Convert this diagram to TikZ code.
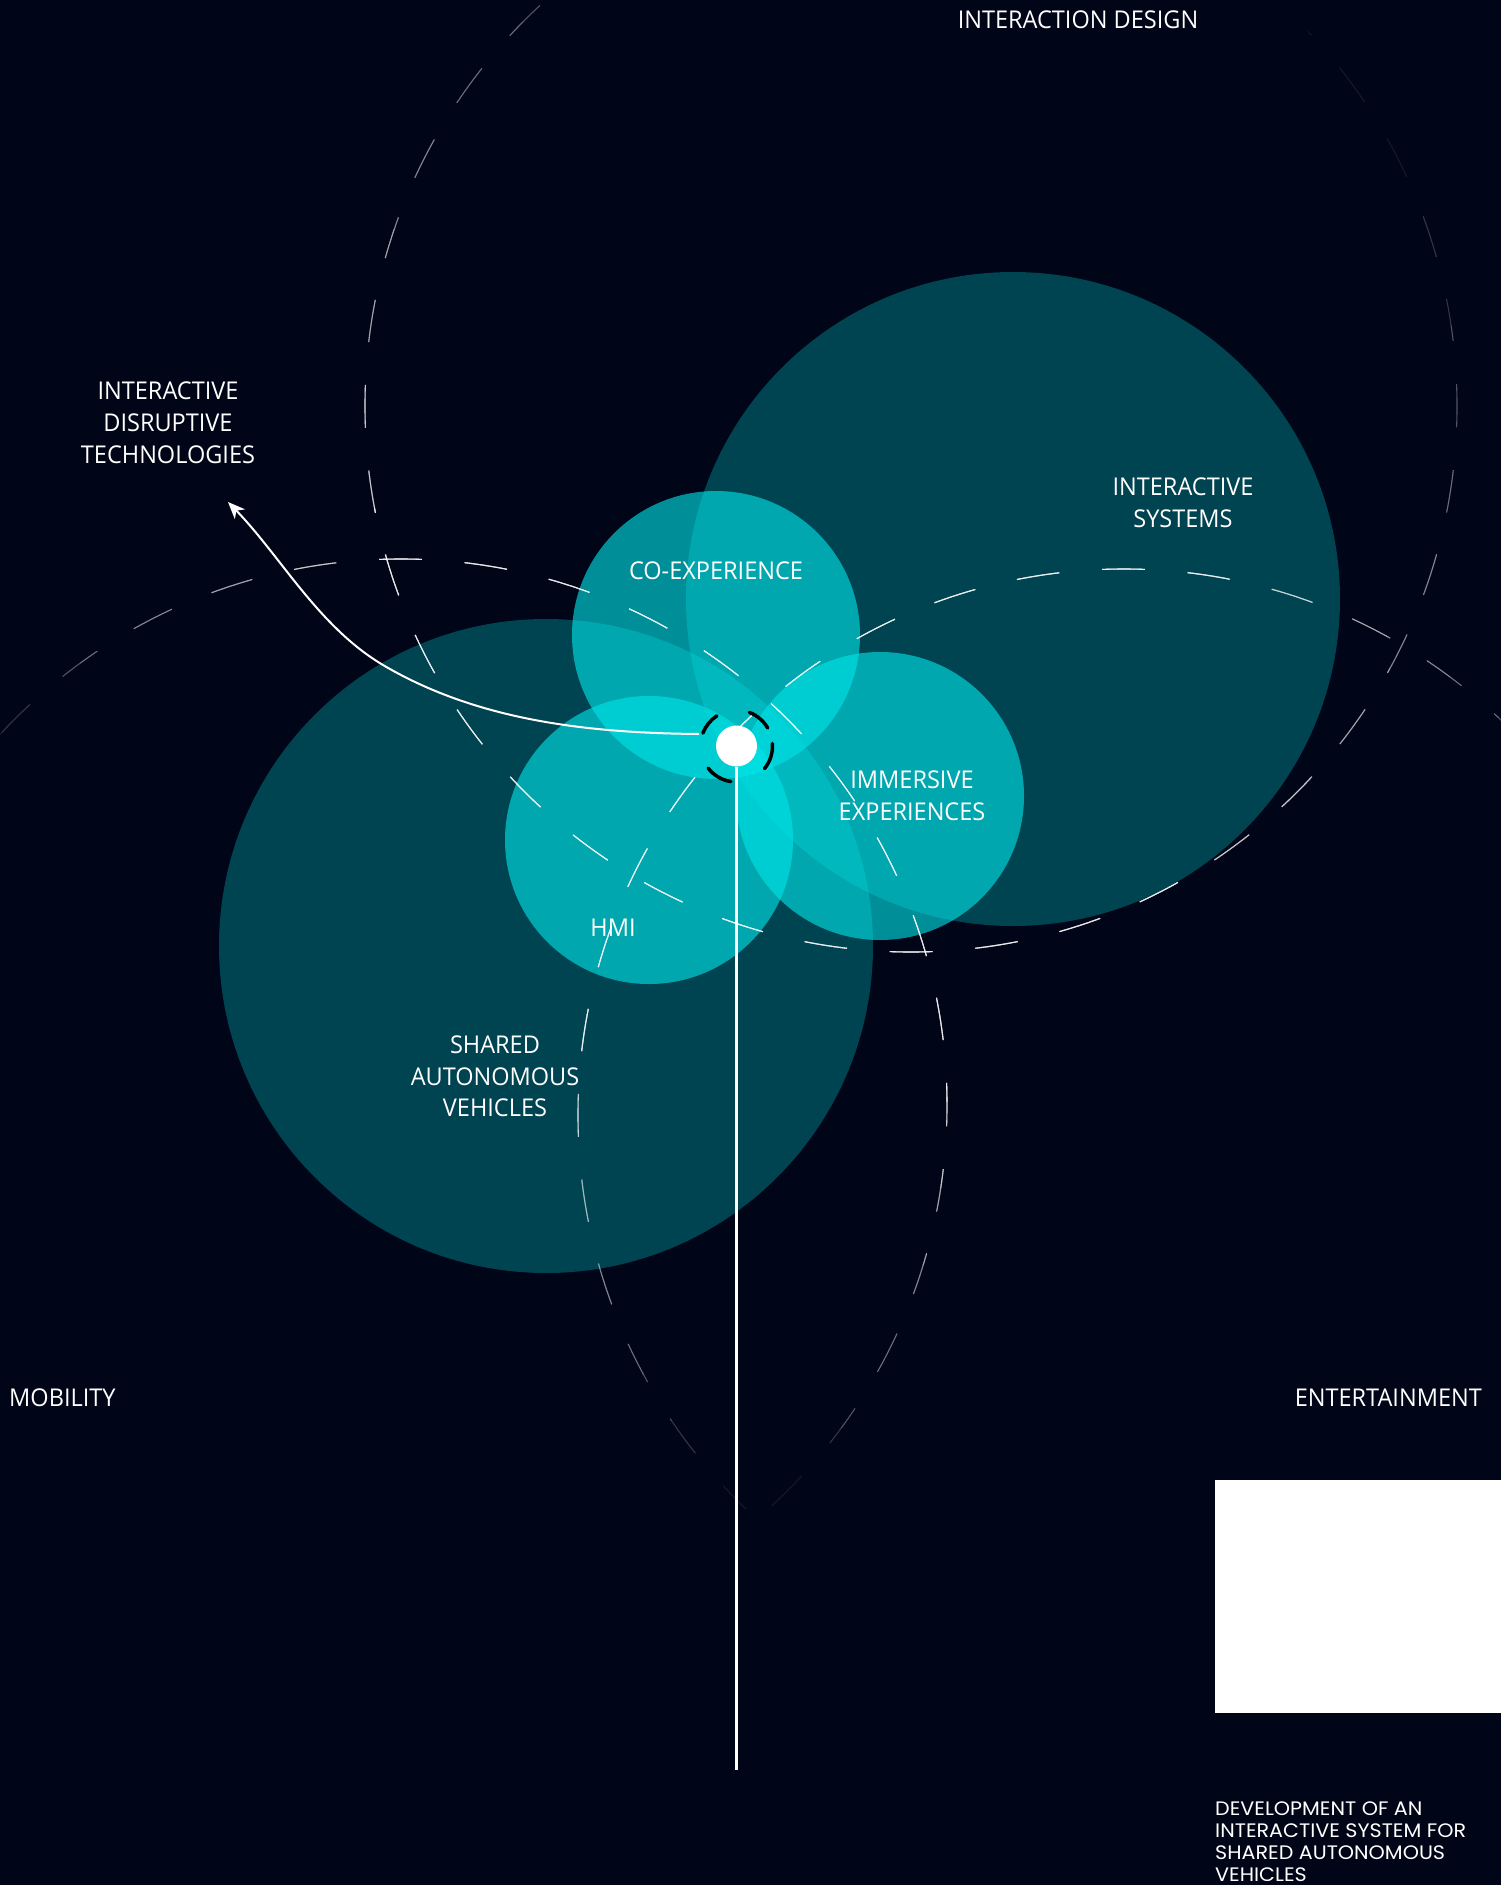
\documentclass[tikz,border=0pt]{standalone}
\usepackage{fontspec}
\setmainfont{Open Sans}[FakeStretch=0.96]
\newfontfamily\captionfont{Poppins}[FakeStretch=1.06]
\usetikzlibrary{arrows.meta}

\definecolor{night}{RGB}{0,5,23}
\definecolor{aqua}{RGB}{0,229,232}

\tikzset{
  bigdisc/.style={fill=aqua, fill opacity=0.28},
  smalldisc/.style={fill=aqua, fill opacity=0.62},
  setring/.style={draw=white, line width=1.1pt,
    dash pattern=on 42.88pt off 42.88pt, dash phase=21.44pt},
  lbl/.style={text=white, font=\fontsize{24.5}{31.6}\selectfont,
    inner sep=0pt, align=center, anchor=north},
  hubring/.style={draw=black, line width=3.5pt, line cap=round},
  pointer/.style={draw=white, line width=2pt,
    -{Stealth[length=17pt, width=14pt, inset=5pt]}},
  stemline/.style={draw=white, line width=3pt},
}

% the three overlapping domains, drawn dashed
\newcommand\domainrings[1]{%
  \draw[setring, draw opacity=#1] (idc) circle[radius=546];
  \draw[setring, draw opacity=#1] (mobc) circle[radius=546];
  \draw[setring, draw opacity=#1] (entc) circle[radius=546];}

\begin{document}
\begin{tikzpicture}[x=1pt, y=-1pt]
  \fill[night] (0,0) rectangle (1501,1885);
  \useasboundingbox (0,0) rectangle (1501,1885);

  % centres
  \coordinate (idc)  at (911,406);
  \coordinate (mobc) at (401,1105);
  \coordinate (entc) at (1124,1115);
  \coordinate (fadec) at (790,680);

  % large topic discs
  \fill[bigdisc] (1013,599) circle[radius=327];
  \fill[bigdisc] (546,946) circle[radius=327];

  % small topic discs
  \fill[smalldisc] (716,635) circle[radius=144];
  \fill[smalldisc] (880,796) circle[radius=144];
  \fill[smalldisc] (649,840) circle[radius=144];

  % dashed domains, fading out away from the middle
  \foreach \R/\a in {830/0.08, 790/0.1304, 750/0.15, 710/0.1471,
                     660/0.1724, 600/0.25, 530/0.3889, 450/0.6364}{
    \begin{scope}
      \clip (fadec) circle[radius=\R];
      \domainrings{\a}
    \end{scope}}

  % focal point
  \node[circle, fill=white, minimum size=41pt, inner sep=0pt] (hub) at (736.5,746) {};
  \draw[hubring] (hub.center) ++(-159:36) arc[start angle=-159, end angle=-123, radius=36];
  \draw[hubring] (hub.center) ++(-69:36) arc[start angle=-69, end angle=-30, radius=36];
  \draw[hubring] (hub.center) ++(-4:36) arc[start angle=-4, end angle=39, radius=36];
  \draw[hubring] (hub.center) ++(99:36) arc[start angle=99, end angle=142, radius=36];

  % connectors
  \coordinate (ringW) at (699,734);
  \coordinate (bend) at (383,665);
  \coordinate (idtTip) at (228,502);
  \coordinate (stemEnd) at (736.5,1770);
  \draw[pointer] (ringW) .. controls (589,733) and (478,721) .. (bend)
                         .. controls (318.5,626.8) and (280.5,556) .. (idtTip);
  \draw[stemline] (hub.south) -- (stemEnd);

  % labels
  \node[lbl] (design) at (1078,11) {INTERACTION DESIGN};
  \node[lbl] (idt) at (168,382) {INTERACTIVE\\DISRUPTIVE\\TECHNOLOGIES};
  \node[lbl] (sys) at (1183,477.5) {INTERACTIVE\\SYSTEMS};
  \node[lbl] (coexp) at (716,561.5) {CO-EXPERIENCE};
  \node[lbl] (immersive) at (912,770.5) {IMMERSIVE\\EXPERIENCES};
  \node[lbl] (hmi) at (613,918.5) {HMI};
  \node[lbl] (sav) at (495,1035.5) {SHARED\\AUTONOMOUS\\VEHICLES};
  \node[lbl, anchor=north west] (mobility) at (9,1389) {MOBILITY};
  \node[lbl, anchor=north east] (entertain) at (1482,1389) {ENTERTAINMENT};

  % project card
  \node[fill=white, minimum width=286pt, minimum height=233pt, inner sep=0pt,
        anchor=north west] (card) at (1215,1480) {};
  \node[text=white, inner sep=0pt, anchor=north west, align=left,
        font=\captionfont\fontsize{19.5}{21.9}\selectfont] (title) at (1215,1802)
    {DEVELOPMENT OF AN\\INTERACTIVE SYSTEM FOR\\SHARED AUTONOMOUS\\VEHICLES};
\end{tikzpicture}
\end{document}
